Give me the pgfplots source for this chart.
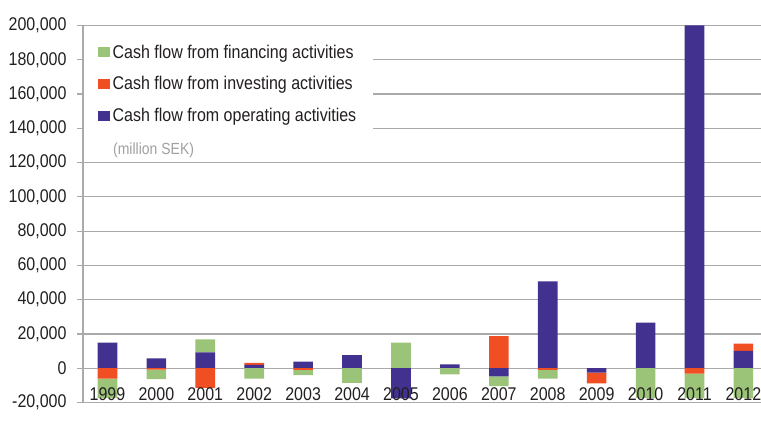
\documentclass[border=0pt]{standalone}
\usepackage{graphicx}
\usepackage{pgfplots}
\usepackage{pgfplotstable}
\pgfplotsset{compat=1.18}
\usepackage{fontspec}
\setmainfont{Liberation Sans}
\definecolor{fin}{RGB}{155,196,120}
\definecolor{inv}{RGB}{240,78,35}
\definecolor{opr}{RGB}{66,49,143}
\definecolor{gridc}{RGB}{170,170,170}
\definecolor{txt}{RGB}{35,31,32}
\definecolor{note}{RGB}{160,160,160}
\newcommand\vs[1]{\scalebox{1}[1.15]{#1}}

% positive parts (stacked upward)
\pgfplotstableread{
x op inv fin
0 15000 0 0
1 5700 0 0
2 9300 0 7600
3 2000 1100 0
4 3900 0 0
5 7600 0 0
6 0 0 15000
7 2300 0 0
8 0 18800 0
9 50700 0 0
10 0 0 0
11 26600 0 0
12 200000 0 0
13 10100 4300 0
}\postab
% negative parts (stacked downward)
\pgfplotstableread{
x op inv fin
0 0 -6000 -11300
1 0 -800 -5600
2 0 -11500 0
3 0 0 -6000
4 0 -1000 -3000
5 0 0 -8500
6 -17600 0 0
7 0 0 -3600
8 -4700 0 -5800
9 0 -1000 -5000
10 -2500 -6400 0
11 0 0 -17300
12 0 -3200 -14100
13 0 0 -17300
}\negtab

\pgfplotsset{common/.style={
  scale only axis, width=678pt, height=377pt,
  at={(0,0)}, anchor=south west,
  xmin=-0.5, xmax=13.36, ymin=-20000, ymax=200000,
  ybar stacked, bar width=19.6pt,
}}
\begin{document}
\begin{tikzpicture}
\begin{axis}[common,
  axis y line*=left, axis x line*=middle,
  tick align=outside,
  ytick={-20000,0,20000,40000,60000,80000,100000,120000,140000,160000,180000,200000},
  scaled y ticks=false,
  ymajorgrids, grid style={gridc, line width=1.1pt},
  y axis line style={gridc, line width=1.1pt},
  x axis line style={gridc, line width=1.1pt},
  ytick style={gridc, line width=1.1pt},
  major tick length=6pt,
  yticklabel={\vs{\pgfmathprintnumber{\tick}}},
  yticklabel style={font=\fontsize{16}{16}\selectfont, text=txt, xshift=-7pt,
    /pgf/number format/.cd, fixed, 1000 sep={,}, assume math mode=true},
  xtick={0,...,13},
  xticklabels={},
  xtick style={draw=none},
  minor xtick={0.5,1.5,...,12.5},
  minor x tick style={gridc, line width=1.1pt},
  minor tick length=5pt,
  legend style={at={(0.0015,0.968)}, anchor=north west, draw=none, fill=white,
    font=\fontsize{16}{16}\selectfont, text=txt, row sep=13pt,
    inner xsep=14pt, inner ysep=5pt,
    nodes={inner xsep=3pt}},
  legend cell align=left,
]
\addplot[fill=opr, draw=none, forget plot] table[x=x, y=op] {\postab};
\addplot[fill=inv, draw=none, forget plot] table[x=x, y=inv] {\postab};
\addplot[fill=fin, draw=none, forget plot] table[x=x, y=fin] {\postab};
\addlegendimage{legend image code/.code={\fill[fin] (0pt,-4.5pt) rectangle (11pt,4.5pt);}}
\addlegendentry{\vs{Cash flow from financing activities}}
\addlegendimage{legend image code/.code={\fill[inv] (0pt,-4.5pt) rectangle (11pt,4.5pt);}}
\addlegendentry{\vs{Cash flow from investing activities}}
\addlegendimage{legend image code/.code={\fill[opr] (0pt,-4.5pt) rectangle (11pt,4.5pt);}}
\addlegendentry{\vs{Cash flow from operating activities}}
\node[anchor=west, text=note, font=\fontsize{14}{14}\selectfont, inner sep=0pt] at (rel axis cs:0.0442,0.67) {\vs{(million SEK)}};
\end{axis}
\begin{axis}[common, axis on top,
  axis y line=none, axis x line*=middle,
  x axis line style={draw=none},
  xtick={0,...,13},
  xticklabels={\vs{1999},\vs{2000},\vs{2001},\vs{2002},\vs{2003},\vs{2004},\vs{2005},\vs{2006},\vs{2007},\vs{2008},\vs{2009},\vs{2010},\vs{2011},\vs{2012}},
  xtick style={draw=none},
  xticklabel style={font=\fontsize{16}{16}\selectfont, text=txt, yshift=-16pt},
]
\addplot[fill=opr, draw=none] table[x=x, y=op] {\negtab};
\addplot[fill=inv, draw=none] table[x=x, y=inv] {\negtab};
\addplot[fill=fin, draw=none] table[x=x, y=fin] {\negtab};
\end{axis}
\pgfresetboundingbox
\path[use as bounding box] (-83pt,-22.5pt) rectangle (678pt,402.5pt);
\end{tikzpicture}
\end{document}
